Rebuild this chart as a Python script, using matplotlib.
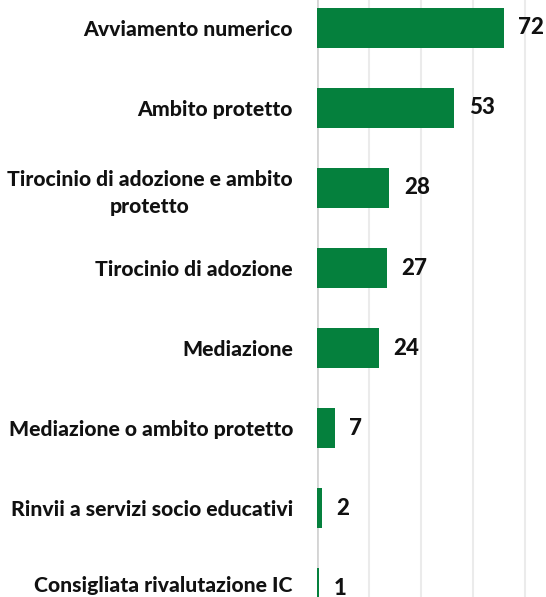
import matplotlib.pyplot as plt
from matplotlib.transforms import ScaledTranslation

categories = [
    'Avviamento numerico',
    'Ambito protetto',
    'Tirocinio di adozione e ambito\nprotetto',
    'Tirocinio di adozione',
    'Mediazione',
    'Mediazione o ambito protetto',
    'Rinvii a servizi socio educativi',
    'Consigliata rivalutazione IC',
]
values = [72, 53, 28, 27, 24, 7, 2, 1]
ticks = [0, 20, 40, 60, 80]

plt.rcParams['font.family'] = ['Lato', 'DejaVu Sans']

fig = plt.figure(figsize=(5.46, 5.97), dpi=100)
ax = fig.add_axes([316.5 / 546, 0, 1 - 316.5 / 546, 1])

green = '#05803d'
ypos = list(range(len(values)))
ax.barh(ypos, values, height=0.5, color=green, zorder=3)

ax.set_xlim(0, (546 - 316.5) / 2.6)
ax.set_ylim((597 - 28) / 80, -28 / 80)
ax.set_xticks(ticks)
ax.xaxis.grid(True, color='#ebebeb', linewidth=1.5, zorder=0)
ax.axvline(0, color='#d4d4d4', linewidth=2, zorder=2)
ax.tick_params(axis='x', length=0, labelbottom=False)
ax.tick_params(axis='y', length=0, pad=17)
ax.set_yticks(ypos)
ax.set_yticklabels(categories, fontsize=15.2, fontweight='black', color='#111111',
                   multialignment='center', linespacing=1.5)
for s in ax.spines.values():
    s.set_visible(False)

# last label sits a little higher so it is not cut at the bottom
last = ax.get_yticklabels()[-1]
last.set_transform(last.get_transform() + ScaledTranslation(0, 0.045, fig.dpi_scale_trans))

for y, v in zip(ypos, values):
    ax.annotate(str(v), (v, y), xytext=(10.5, 0), textcoords='offset points',
                va='center', ha='left', fontsize=16, fontweight='black',
                color='#111111')

fig.savefig('out.png', dpi=100)
